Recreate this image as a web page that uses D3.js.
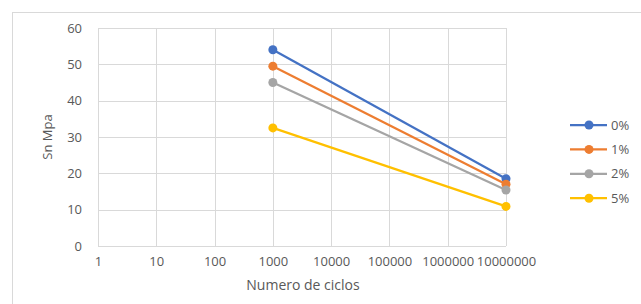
<!DOCTYPE html>
<html>
<head>
<meta charset="utf-8">
<script src="https://cdn.jsdelivr.net/npm/d3@7"></script>
<style>
  body { margin: 0; background: #fff; }
  text { font-family: "Open Sans", "Liberation Sans", sans-serif; fill: #595959; }
</style>
</head>
<body>
<div id="chart"></div>
<script>
var ciclos = [1000, 10000000];
var series = ["0%", "1%", "2%", "5%"];
var valores0 = [54, 18.5];
var valores1 = [49.5, 17];
var valores2 = [45, 15.4];
var valores5 = [32.5, 10.9];
var colores = ["#4472C4", "#ED7D31", "#A5A5A5", "#FFC000"];
var xTicks = [1, 10, 100, 1000, 10000, 100000, 1000000, 10000000];
var yTicks = [0, 10, 20, 30, 40, 50, 60];

var allValues = [valores0, valores1, valores2, valores5];
var myData = series.map(function (s, i) {
  return { name: s, color: colores[i], points: ciclos.map(function (c, j) { return { x: c, y: allValues[i][j] }; }) };
});

var width = 641,
  height = 304,
  margin = {left: 98, right: 135, top: 28, bottom: 58},
  svg = d3.select("#chart").append("svg")
    .attr("width", width)
    .attr("height", height);

// chart frame
svg.append("rect")
  .attr("x", 12.5).attr("y", 12.5)
  .attr("width", 640).attr("height", 300)
  .attr("fill", "none").attr("stroke", "#d9d9d9");

var chart = svg.append("g")
  .attr("transform", "translate(" + margin.left + "," + margin.top + ")");

var innerW = width - margin.left - margin.right,
  innerH = height - margin.top - margin.bottom;

var xScale = d3.scaleLog().domain([1, 10000000]).range([0, innerW]);
var yScale = d3.scaleLinear().domain([0, 60]).range([innerH, 0]);

// gridlines
chart.selectAll(".hgrid").data(yTicks).enter().append("line")
  .attr("x1", 0).attr("x2", innerW)
  .attr("y1", function (d) { return Math.round(yScale(d)) + 0.5; })
  .attr("y2", function (d) { return Math.round(yScale(d)) + 0.5; })
  .attr("stroke", "#d9d9d9");
chart.selectAll(".vgrid").data(xTicks).enter().append("line")
  .attr("y1", 0).attr("y2", innerH)
  .attr("x1", function (d) { return Math.round(xScale(d)) + 0.5; })
  .attr("x2", function (d) { return Math.round(xScale(d)) + 0.5; })
  .attr("stroke", "#d9d9d9");

// axes
var xAxis = chart.append("g")
  .attr("transform", "translate(0," + innerH + ")")
  .call(d3.axisBottom(xScale).tickValues(xTicks).tickFormat(d3.format("d")).tickSize(0).tickPadding(11));
var yAxis = chart.append("g")
  .call(d3.axisLeft(yScale).tickValues(yTicks).tickSize(0).tickPadding(16));
xAxis.select(".domain").remove();
yAxis.select(".domain").remove();
chart.selectAll(".tick text").attr("font-size", 13).attr("fill", "#595959");

// lines
var line = d3.line()
  .x(function (d) { return xScale(d.x); })
  .y(function (d) { return yScale(d.y); });

var grupos = chart.selectAll(".serie").data(myData).enter().append("g");
grupos.append("path")
  .attr("d", function (d) { return line(d.points); })
  .attr("fill", "none")
  .attr("stroke", function (d) { return d.color; })
  .attr("stroke-width", 2.25);
grupos.selectAll("circle").data(function (d) { return d.points.map(function (p) { return { x: p.x, y: p.y, color: d.color }; }); })
  .enter().append("circle")
  .attr("cx", function (d) { return xScale(d.x); })
  .attr("cy", function (d) { return yScale(d.y); })
  .attr("r", 4.5)
  .attr("fill", function (d) { return d.color; });

// axis titles
svg.append("text")
  .attr("x", margin.left + innerW / 2 + 1).attr("y", 290)
  .attr("text-anchor", "middle").attr("font-size", 14)
  .text("Numero de ciclos");
svg.append("text")
  .attr("transform", "translate(52," + (margin.top + innerH / 2) + ") rotate(-90)")
  .attr("text-anchor", "middle").attr("font-size", 13)
  .text("Sn Mpa");

// legend
var legend = svg.selectAll(".legend").data(myData).enter().append("g")
  .attr("transform", function (d, i) { return "translate(570," + (125 + i * 24.4) + ")"; });
legend.append("line")
  .attr("x1", 0).attr("x2", 37)
  .attr("stroke", function (d) { return d.color; })
  .attr("stroke-width", 2.25);
legend.append("circle")
  .attr("cx", 19).attr("r", 4.5)
  .attr("fill", function (d) { return d.color; });
legend.append("text")
  .attr("x", 41).attr("dy", "0.35em")
  .attr("font-size", 13)
  .text(function (d) { return d.name; });
</script>
</body>
</html>
